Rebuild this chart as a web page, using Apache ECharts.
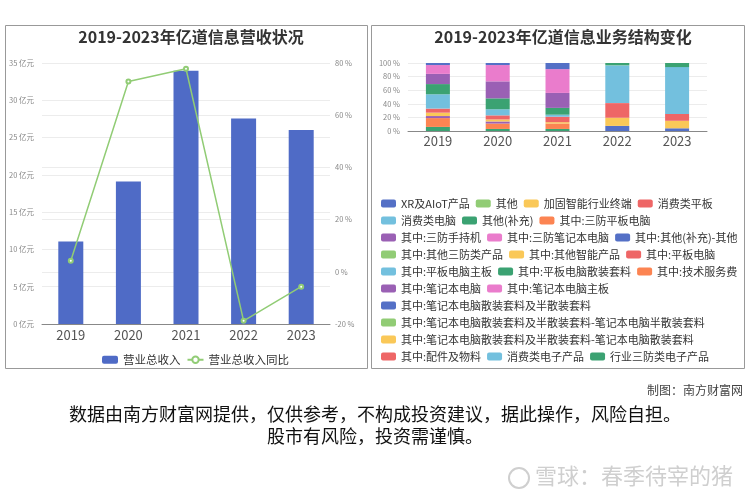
<!DOCTYPE html>
<html>
<head>
<meta charset="utf-8">
<script src="https://cdn.jsdelivr.net/npm/echarts@6/dist/echarts.min.js"></script>
<style>
  html, body { margin: 0; padding: 0; background: #fff; }
  #chart { width: 750px; height: 500px; }
</style>
</head>
<body>
<div id="chart"></div>
<script>
const years = ['2019', '2020', '2021', '2022', '2023'];
// 营业总收入（亿元）与同比（%）
const revenue = [11.05, 19.11, 33.97, 27.57, 26.0];
const revenueYoy = [4.2, 72.9, 77.8, -18.8, -5.7];

const segmentNames = [
  'XR及AIoT产品', '其他', '加固智能行业终端', '消费类平板',
  '消费类电脑', '其他(补充)', '其中:三防平板电脑',
  '其中:三防手持机', '其中:三防笔记本电脑', '其中:其他(补充)-其他',
  '其中:其他三防类产品', '其中:其他智能产品', '其中:平板电脑',
  '其中:平板电脑主板', '其中:平板电脑散装套料', '其中:技术服务费',
  '其中:笔记本电脑', '其中:笔记本电脑主板',
  '其中:笔记本电脑散装套料及半散装套料',
  '其中:笔记本电脑散装套料及半散装套料-笔记本电脑半散装套料',
  '其中:笔记本电脑散装套料及半散装套料-笔记本电脑散装套料',
  '其中:配件及物料', '消费类电子产品', '行业三防类电子产品'
];
// 各业务占比（%），行顺序同 segmentNames，列顺序同 years
const segmentShares = [
  [0, 0, 0, 7.5, 4],
  [0, 0, 0, 0, 0],
  [0, 0, 0, 12, 11],
  [0, 0, 0, 21.5, 10],
  [0, 0, 0, 55.5, 69],
  [6, 3, 3, 3.5, 6],
  [13, 8, 8, 0, 0],
  [3, 3, 0, 0, 0],
  [0, 0, 0, 0, 0],
  [0, 0, 0, 0, 0],
  [0, 0, 0, 0, 0],
  [5, 3, 2, 0, 0],
  [6, 6, 8, 0, 0],
  [21, 9, 3, 0, 0],
  [15, 16, 10, 0, 0],
  [0, 0, 0, 0, 0],
  [15, 25, 22, 0, 0],
  [13, 24, 35, 0, 0],
  [3, 3, 9, 0, 0],
  [0, 0, 0, 0, 0],
  [0, 0, 0, 0, 0],
  [0, 0, 0, 0, 0],
  [0, 0, 0, 0, 0],
  [0, 0, 0, 0, 0]
];

const palette = ['#5470c6', '#91cc75', '#fac858', '#ee6666', '#73c0de', '#3ba272', '#fc8452', '#9a60b4', '#ea7ccc'];
const FONT = '"Noto Sans CJK SC", "Noto Sans", sans-serif';

const chart = echarts.init(document.getElementById('chart'));

const axisLabelSmall = { fontSize: 7.5, color: '#888', fontFamily: FONT };
const splitLineStyle = { show: true, lineStyle: { color: '#ececec' } };

const structureSeries = segmentNames.map((name, i) => ({
  name: name,
  type: 'bar',
  stack: 'share',
  xAxisIndex: 1,
  yAxisIndex: 2,
  barWidth: 24,
  itemStyle: { color: palette[i % palette.length] },
  data: segmentShares[i]
}));

const option = {
  color: palette,
  animation: false,
  textStyle: { fontFamily: FONT },
  title: [
    {
      text: '2019-2023年亿道信息营收状况',
      left: 186, top: 24, textAlign: 'center',
      textStyle: { fontSize: 16, fontWeight: 'bold', color: '#333', fontFamily: FONT }
    },
    {
      text: '2019-2023年亿道信息业务结构变化',
      left: 558, top: 24, textAlign: 'center',
      textStyle: { fontSize: 16, fontWeight: 'bold', color: '#333', fontFamily: FONT }
    }
  ],
  legend: [
    {
      left: 97, top: 349,
      itemWidth: 16, itemHeight: 8, itemGap: 6,
      textStyle: { fontSize: 11.5, color: '#333', fontFamily: FONT },
      data: ['营业总收入', '营业总收入同比']
    },
    {
      left: 376, top: 193, width: 368,
      itemWidth: 15, itemHeight: 8, itemGap: 6,
      textStyle: { fontSize: 11, color: '#333', lineHeight: 10, fontFamily: FONT },
      data: segmentNames
    }
  ],
  grid: [
    { left: 42, right: 420, top: 63, bottom: 176 },
    { left: 408, right: 43, top: 63, bottom: 369 }
  ],
  xAxis: [
    {
      type: 'category', gridIndex: 0, data: years,
      axisLine: { lineStyle: { color: '#888' } },
      axisTick: { lineStyle: { color: '#888' } },
      axisLabel: { fontSize: 13, color: '#555', margin: 5, fontFamily: FONT }
    },
    {
      type: 'category', gridIndex: 1, data: years,
      axisLine: { lineStyle: { color: '#888' } },
      axisTick: { lineStyle: { color: '#888' } },
      axisLabel: { fontSize: 13, color: '#555', margin: 4, fontFamily: FONT }
    }
  ],
  yAxis: [
    {
      type: 'value', gridIndex: 0, min: 0, max: 35, interval: 5,
      axisLabel: Object.assign({ formatter: '{value} 亿元' }, axisLabelSmall),
      splitLine: splitLineStyle
    },
    {
      type: 'value', gridIndex: 0, min: -20, max: 80, interval: 20, position: 'right',
      axisLabel: Object.assign({ formatter: '{value} %', margin: 5 }, axisLabelSmall),
      splitLine: splitLineStyle
    },
    {
      type: 'value', gridIndex: 1, min: 0, max: 100, interval: 20,
      axisLabel: Object.assign({ formatter: '{value} %' }, axisLabelSmall),
      splitLine: splitLineStyle
    }
  ],
  series: [
    {
      name: '营业总收入', type: 'bar', xAxisIndex: 0, yAxisIndex: 0,
      barWidth: 25, itemStyle: { color: '#4f6bc6' },
      data: revenue
    },
    {
      name: '营业总收入同比', type: 'line', xAxisIndex: 0, yAxisIndex: 1,
      symbol: 'emptyCircle', symbolSize: 4,
      lineStyle: { color: '#91cc75', width: 1.5 },
      itemStyle: { color: '#91cc75' },
      data: revenueYoy
    }
  ].concat(structureSeries),
  graphic: [
    { type: 'rect', shape: { x: 5.5, y: 25.5, width: 362, height: 343 }, style: { fill: 'none', stroke: '#999', lineWidth: 1 }, z: -1 },
    { type: 'rect', shape: { x: 371.5, y: 25.5, width: 373, height: 343 }, style: { fill: 'none', stroke: '#999', lineWidth: 1 }, z: -1 },
    { type: 'text', right: 7, top: 384, style: { text: '制图：南方财富网', fontSize: 12, fill: '#444', fontFamily: FONT } },
    { type: 'text', left: 'center', top: 405, style: { text: '数据由南方财富网提供，仅供参考，不构成投资建议，据此操作，风险自担。', fontSize: 18, fill: '#111', fontFamily: FONT } },
    { type: 'text', left: 'center', top: 427, style: { text: '股市有风险，投资需谨慎。', fontSize: 18, fill: '#111', fontFamily: FONT } },
    { type: 'circle', shape: { cx: 519, cy: 478, r: 10 }, style: { fill: 'none', stroke: '#cfcfcf', lineWidth: 2 } },
    { type: 'text', left: 535, top: 465, style: { text: '雪球：春季待宰的猪', fontSize: 22, fill: '#cfcfcf', fontFamily: FONT } }
  ]
};

chart.setOption(option);
</script>
</body>
</html>
